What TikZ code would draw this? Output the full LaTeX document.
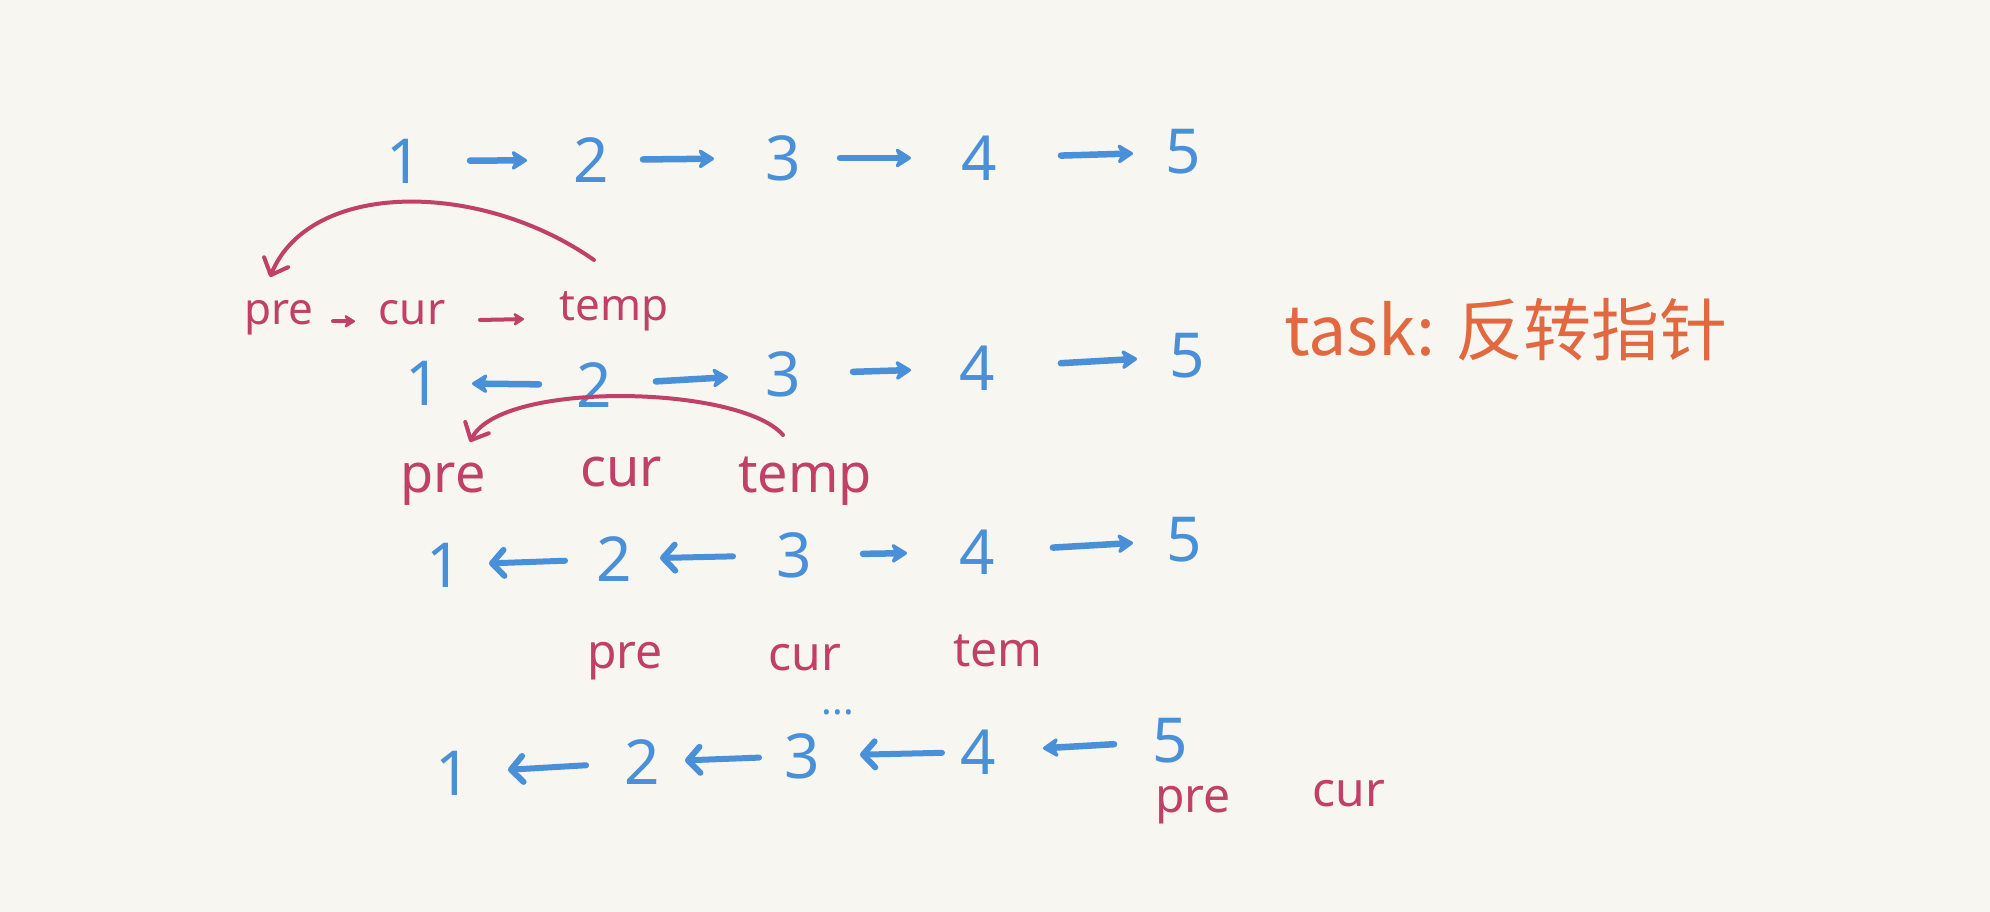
\documentclass[tikz,border=0pt]{standalone}
\usepackage{fontspec}
\setmainfont{Noto Sans}
\newfontfamily\cjk{Noto Sans CJK SC}
\usetikzlibrary{arrows.meta}
\definecolor{paper}{RGB}{247,246,241}
\definecolor{pblue}{RGB}{74,144,217}
\definecolor{pred}{RGB}{192,64,104}
\definecolor{porange}{RGB}{226,104,64}
\begin{document}
\begin{tikzpicture}[x=1pt,y=-1pt,
  digit/.style={inner sep=0pt,text=pblue,font=\fontsize{62}{62}\selectfont},
  labA/.style={inner sep=0pt,text=pred,anchor=base,font=\fontsize{44}{44}\selectfont},
  labB/.style={inner sep=0pt,text=pred,anchor=base,font=\fontsize{54}{54}\selectfont},
  labC/.style={inner sep=0pt,text=pred,anchor=base,font=\fontsize{48}{48}\selectfont},
  link/.style={draw=pblue,line width=6.5pt,line cap=round,-{Stealth[length=19pt,width=24pt,round]}},
  blink/.style={draw=pblue,line width=6pt,line cap=round,-{Straight Barb[length=12pt,width=26pt,round]}},
  rlink/.style={draw=pred,line width=4pt,line cap=round,-{Stealth[length=13pt,width=16pt,round]}},
  swing/.style={draw=pred,line width=4pt,line cap=round,-{Straight Barb[length=14pt,width=26pt,round]}}
]
\useasboundingbox (0,0) rectangle (1990,912);
\fill[paper] (0,0) rectangle (1990,912);

% row 1
\node[digit] (a1) at (404,161) {1};
\node[digit] (a2) at (591,160) {2};
\node[digit] (a3) at (783,158) {3};
\node[digit] (a4) at (979,158) {4};
\node[digit] (a5) at (1183,152) {5};
\draw[link,shorten <=66pt,shorten >=64pt] (a1.center) -- (a2.center);
\draw[link,shorten <=52pt,shorten >=69pt] (a2.center) -- (a3.center);
\draw[link,shorten <=57pt,shorten >=68pt] (a3.center) -- (a4.center);
\draw[link,shorten <=82pt,shorten >=50pt] (a4.center) -- (a5.center);

\node[labA] (p1) at (279,324) {pre};
\node[labA] (c1) at (412,324) {cur};
\node[labA] (t1) at (614,320) {temp};
\draw[rlink,shorten <=54pt,shorten >=57pt] (p1.mid) -- (c1.mid);
\draw[rlink,shorten <=68pt,shorten >=90pt] (c1.mid) -- (t1.mid);
\draw[swing] ([shift={(-20,-60)}]t1.base) .. controls (480,180) and (310,180) .. ([shift={(-9,-47)}]p1.base);

% task
\node[inner sep=0pt,anchor=west,text=porange,font=\cjk\fontsize{68}{68}\selectfont] (task) at (1284,330) {task: 反转指针};

% row 2
\node[digit] (b1) at (423,383) {1};
\node[digit] (b2) at (594,385) {2};
\node[digit] (b3) at (783,374) {3};
\node[digit] (b4) at (977,368) {4};
\node[digit] (b5) at (1187,356) {5};
\draw[link,shorten <=55pt,shorten >=49pt] (b2.center) -- (b1.center);
\draw[link,shorten <=62pt,shorten >=55pt] (b2.center) -- (b3.center);
\draw[link,shorten <=70pt,shorten >=66pt] (b3.center) -- (b4.center);
\draw[link,shorten <=84pt,shorten >=50pt] (b4.center) -- (b5.center);

\node[labB] (p2) at (443,492) {pre};
\node[labB] (c2) at (621,486) {cur};
\node[labB] (t2) at (805,492) {temp};
\draw[swing] ([shift={(-22,-57)}]t2.base) .. controls (740,385) and (500,380) .. ([shift={(27,-50)}]p2.base);

% row 3
\node[digit] (d1) at (444,565) {1};
\node[digit] (d2) at (614,559) {2};
\node[digit] (d3) at (794,555) {3};
\node[digit] (d4) at (977,552) {4};
\node[digit] (d5) at (1184,540) {5};
\draw[blink,shorten <=49pt,shorten >=45pt] (d2.center) -- (d1.center);
\draw[blink,shorten <=61pt,shorten >=46pt] (d3.center) -- (d2.center);
\draw[link,shorten <=69pt,shorten >=70pt] (d3.center) -- (d4.center);
\draw[link,shorten <=76pt,shorten >=51pt] (d4.center) -- (d5.center);

\node[labC] (p3) at (625,668) {pre};
\node[labC] (c3) at (805,670) {cur};
\node[labC] (t3) at (998,666) {tem};

\node[inner sep=0pt,text=pblue,font=\fontsize{40}{40}\selectfont] (dots) at (838,712) {...};

% row 4
\node[digit] (e1) at (453,773) {1};
\node[digit] (e2) at (642,762) {2};
\node[digit] (e3) at (802,756) {3};
\node[digit] (e4) at (978,752) {4};
\node[digit] (e5) at (1170,741) {5};
\draw[blink,shorten <=56pt,shorten >=55pt] (e2.center) -- (e1.center);
\draw[blink,shorten <=43pt,shorten >=43pt] (e3.center) -- (e2.center);
\draw[blink,shorten <=36pt,shorten >=58pt] (e4.center) -- (e3.center);
\draw[link,shorten <=56pt,shorten >=65pt] (e5.center) -- (e4.center);

\node[labC] (p4) at (1193,812) {pre};
\node[labC] (c4) at (1349,806) {cur};
\end{tikzpicture}
\end{document}
